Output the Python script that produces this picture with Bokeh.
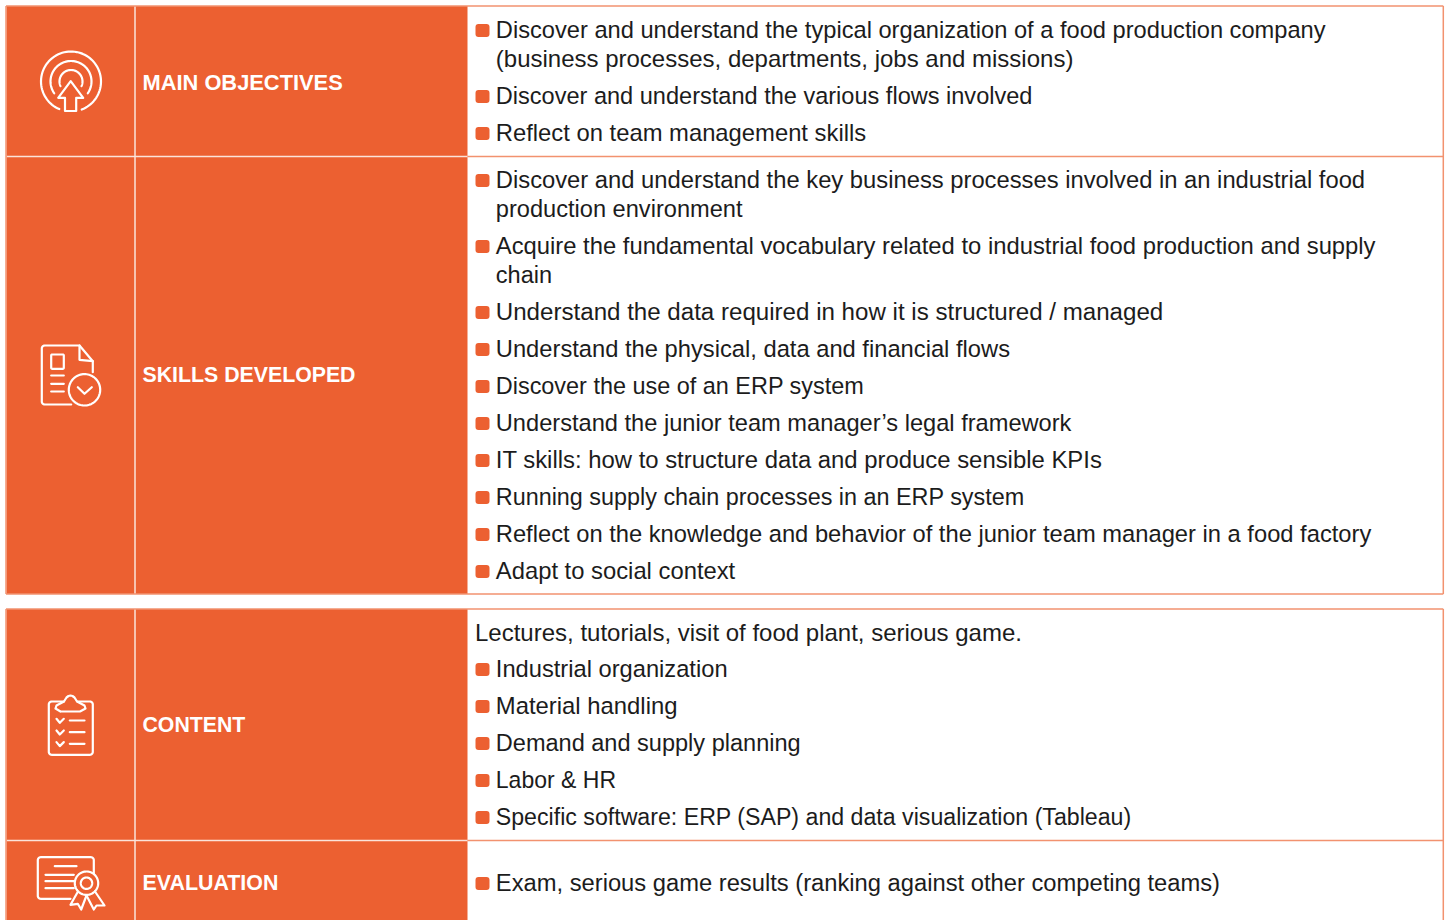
import numpy as np
from bokeh.plotting import figure
from bokeh.models import Range1d
from bokeh.core.properties import value
from bokeh.embed import file_html
from bokeh.resources import INLINE

# ---- content ----
headers = ["MAIN OBJECTIVES", "SKILLS DEVELOPED", "CONTENT", "EVALUATION"]
objectives = [
    ["Discover and understand the typical organization of a food production company",
     "(business processes, departments, jobs and missions)"],
    ["Discover and understand the various flows involved"],
    ["Reflect on team management skills"],
]
skills = [
    ["Discover and understand the key business processes involved in an industrial food",
     "production environment"],
    ["Acquire the fundamental vocabulary related to industrial food production and supply",
     "chain"],
    ["Understand the data required in how it is structured / managed"],
    ["Understand the physical, data and financial flows"],
    ["Discover the use of an ERP system"],
    ["Understand the junior team manager\u2019s legal framework"],
    ["IT skills: how to structure data and produce sensible KPIs"],
    ["Running supply chain processes in an ERP system"],
    ["Reflect on the knowledge and behavior of the junior team manager in a food factory"],
    ["Adapt to social context"],
]
content_intro = "Lectures, tutorials, visit of food plant, serious game."
content = [
    ["Industrial organization"],
    ["Material handling"],
    ["Demand and supply planning"],
    ["Labor & HR"],
    ["Specific software: ERP (SAP) and data visualization (Tableau)"],
]
evaluation = [["Exam, serious game results (ranking against other competing teams)"]]

# ---- layout ----
W, H = 1450, 920
ORANGE = "#EC6031"
EDGE = "#F2926F"
BODY_FONT = "Liberation Sans"
L, C1, C2, R = 6, 134.5, 467, 1443

# width of each line in the reference against its width in the substitute font at 24px
ref_right = [1325, 1073, 1032, 866, 1365, 742, 1375, 551, 1163, 1009, 863, 1071, 1101, 1024, 1371, 735,
             727, 677, 800, 615, 1131, 1219, 1022]
sub_right = [1338, 1074, 1043, 870, 1374, 747, 1383, 553, 1161, 1016, 873, 1081, 1105, 1039, 1382, 738,
             731, 679, 807, 621, 1155, 1228, 1022]
line_sizes = [f"{24 * (a - 496) / (b - 497):.2f}px" for a, b in zip(ref_right[:-1], sub_right[:-1])]
line_sizes.append("24px")
header_sizes = ["21.85px", "21.3px", "21.26px", "21.4px"]

p = figure(width=W, height=H, output_backend="svg", toolbar_location=None,
           x_range=Range1d(0, W), y_range=Range1d(H, 0), min_border=0,
           outline_line_color=None, background_fill_color="white",
           x_axis_type=None, y_axis_type=None, margin=0)
p.grid.visible = False

tables = [(5.5, 593.5), (608.5, 925)]
row_tops = [5.5, 156, 608.5, 840]
row_bottoms = [156, 593.5, 840, 925]
p.quad(left=[L] * 4, right=[C2] * 4, top=row_tops, bottom=row_bottoms,
       fill_color=ORANGE, line_color=None)
# white dividers inside the orange columns
p.segment(x0=[C1] * 4, x1=[C1] * 4, y0=row_tops, y1=row_bottoms, line_color="#FBE3DA", line_width=1.5)
p.segment(x0=[L, L], x1=[C2, C2], y0=[156, 840], y1=[156, 840], line_color="#FBE3DA", line_width=1.5)
# outer rules
for top, bottom in tables:
    p.line([5.5, 5.5], [top, bottom], line_color=EDGE, line_width=1.5)
    p.line([1442.8, 1442.8], [top, bottom], line_color=EDGE, line_width=1.5)
    p.line([5.5, 1442.8], [top, top], line_color=EDGE, line_width=1.5)
    p.line([5.5, 1442.8], [bottom, bottom], line_color=EDGE, line_width=1.5)
p.segment(x0=[C2, C2], x1=[1442.8, 1442.8], y0=[156, 840], y1=[156, 840], line_color=EDGE, line_width=1.5)

# headers
p.text(x=[142] * 4, y=[81.5, 374.5, 724.5, 882.5], text=headers, text_color="white",
       text_font=value("Liberation Sans"), text_font_style="bold", text_font_size=header_sizes,
       text_baseline="alphabetic")

LINE, ITEM = 29, 37
OFFSET = -0.6
xs, ys, txt, bx, by = [], [], [], [], []


def place(items, start):
    y = start
    for item in items:
        bx.append(482)
        by.append(y)
        for k, s in enumerate(item):
            xs.append(495.3)
            ys.append(y + OFFSET + k * LINE)
            txt.append(s)
        y += ITEM + (len(item) - 1) * LINE


place(objectives, 30)
place(skills, 180)
place(content, 669)
place(evaluation, 883)
xs.append(474.5)
ys.append(633 + OFFSET)
txt.append(content_intro)

p.text(x=xs, y=ys, text=txt, text_color="#1c1c1c", text_font=value(BODY_FONT),
       text_font_size=line_sizes, text_baseline="alphabetic")
p.quad(left=[b - 7 for b in bx], right=[b + 7 for b in bx],
       top=[b - 6.5 for b in by], bottom=[b + 6.5 for b in by],
       fill_color=ORANGE, line_color=None, border_radius=3)

# ---- icons ----


def arc(cx, cy, r, a0, a1):
    t = np.radians(np.linspace(a0, a1, 80))
    return list(cx + r * np.cos(t)), list(cy + r * np.sin(t))


def rbox(x0, y0, x1, y1, r=3):
    a = arc(x0 + r, y0 + r, r, 180, 270)
    b = arc(x1 - r, y0 + r, r, 270, 360)
    c = arc(x1 - r, y1 - r, r, 0, 90)
    d = arc(x0 + r, y1 - r, r, 90, 180)
    return a[0] + b[0] + c[0] + d[0] + [a[0][0]], a[1] + b[1] + c[1] + d[1] + [a[1][0]]


paths = []
# target
paths.append(arc(70.5, 81, 30, 113, 429))
paths.append(arc(70.5, 81, 20.5, 145, 395))
paths.append(arc(70.5, 81, 11.5, 156, 384))
paths.append(([64.5, 64.5, 57.7, 70.2, 82.7, 75.7, 75.7, 64.5],
              [110.5, 97.3, 97.3, 80.7, 97.3, 97.3, 110.5, 110.5]))
# document
ax, ay = arc(44.3, 348, 3, 180, 270)
bx2, by2 = arc(44.3, 401, 3, 90, 180)
paths.append(([92.3, 92.3] + [79, 79] + ax[::-1] + bx2[::-1] + [70.7],
              [371.7, 360.7] + [359.3, 345] + ay[::-1] + by2[::-1] + [404]))
paths.append(([79, 92.3], [345, 360.7]))
paths.append(rbox(50.7, 354, 63.3, 368.3, 1))
paths += [([50.7, 63.3], [y, y]) for y in (375, 383.3, 391)]
paths.append(arc(84, 389.3, 15.7, 0, 360))
paths.append(([77.3, 84, 91.3], [386.7, 393.3, 386.7]))
# clipboard
ax, ay = arc(51.3, 704, 3, 180, 270)
b1x, b1y = arc(89.3, 704, 3, 270, 360)
c1x, c1y = arc(89.3, 751.3, 3, 0, 90)
d1x, d1y = arc(51.3, 751.3, 3, 90, 180)
paths.append(([63.5] + ax[::-1] + d1x[::-1] + c1x[::-1] + b1x[::-1] + [77],
              [701] + ay[::-1] + d1y[::-1] + c1y[::-1] + b1y[::-1] + [701]))
paths.append(([60, 79.5, 85, 84, 76.5, 74, 72, 70, 68, 66, 63.5, 56, 55, 60],
              [711, 711, 708, 705, 701, 697, 695.5, 695, 695.5, 697, 701, 705, 708, 711]))
for y in (720, 731.7, 743.3):
    paths.append(([56, 59.3, 63.3], [y - 1.7, y + 2.3, y - 1.7]))
    paths.append(([69.3, 84], [y, y]))
# certificate
ax, ay = arc(40.3, 859.7, 3, 180, 270)
b1x, b1y = arc(90.3, 859.7, 3, 270, 360)
d1x, d1y = arc(40.3, 895.3, 3, 90, 180)
paths.append(([70] + d1x + ax + b1x + [93.3],
              [898.3] + d1y + ay + b1y + [873]))
paths.append(([54.3, 76], [865.7, 865.7]))
paths += [([45, 73.3], [y, y]) for y in (874.3, 880.7, 887.7)]
paths.append(arc(86, 882.7, 11.7, 0, 360))
paths.append(arc(86, 882.7, 5.7, 0, 360))
paths.append(([77.5, 70, 77.3, 80.7, 86], [891, 904.3, 903.3, 909, 895]))
paths.append(([94.5, 104, 96, 93.3, 86], [891, 905, 905, 909, 895]))

p.multi_line(xs=[q[0] for q in paths], ys=[q[1] for q in paths], line_color="white",
             line_width=2.2, line_join="round", line_cap="round")

open("out.html", "w").write(file_html(p, INLINE))
